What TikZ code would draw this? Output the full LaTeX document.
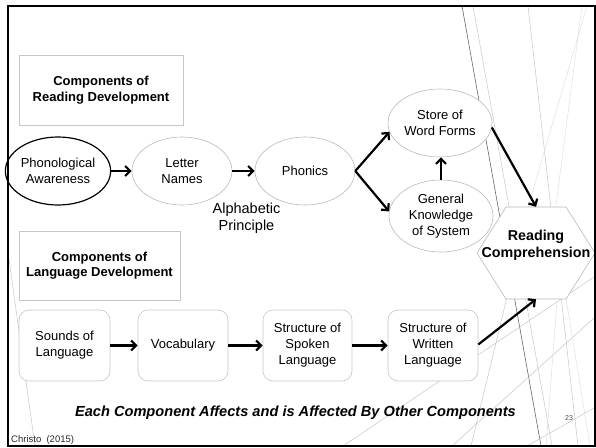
\documentclass[tikz,border=0pt]{standalone}
\usepackage{fontspec}
\setmainfont{Liberation Sans}
\usepackage{tikz}
\usetikzlibrary{
  arrows.meta,
  positioning,
  shapes.geometric,
}

\begin{document}
\begin{tikzpicture}[
  x=1pt, y=-1pt,
  oval/.style={
    ellipse, draw=gray!55, line width=0.6pt, fill=white,
    minimum width=100pt, minimum height=68pt, inner sep=0pt,
    align=center, font=\fontsize{13}{16}\selectfont,
  },
  card/.style={
    draw=gray!45, line width=0.6pt, fill=white, rounded corners=10pt,
    minimum width=90pt, minimum height=71pt, inner sep=0pt,
    align=center, font=\fontsize{13}{16}\selectfont,
  },
  titlebox/.style={
    draw=gray!45, line width=0.6pt, fill=white, inner sep=0pt,
    align=center, font=\bfseries\fontsize{13}{15.5}\selectfont,
  },
  hexnode/.style={
    minimum width=118pt, minimum height=92pt, inner sep=0pt,
    text depth=19pt,
    align=center, font=\bfseries\fontsize{14.3}{17}\selectfont,
  },
  arrow/.style={
    -{Straight Barb[length=5pt,width=10pt]}, line width=2.2pt,
  },
  decor/.style={gray!45, line width=0.5pt},
  decordark/.style={gray!80!black, line width=0.6pt},
  decorlight/.style={gray!25, line width=0.5pt},
]
  \useasboundingbox (0,0) rectangle (596,447);

  % Theme lines
  \draw[decordark] (462,6) -- (541,446);
  \draw[decor] (473,6) -- (552,446);
  \draw[decor] (528,6) -- (578,446);
  \draw[decorlight] (587,6) -- (528,207);
  \draw[decorlight] (582,6) -- (556,205);
  \draw[decor] (343,446) -- (594,277);
  \draw[decor] (452,446) -- (594,318);
  \draw[decor] (527,446) -- (594,408);
  \draw[decor] (507,297) -- (471,446);
  \draw[decorlight] (557,301) -- (546,446);
  \draw[decorlight] (566,298) -- (590,446);
  \draw[decor] (8,252) -- (35,446);

  % Headings
  \node[titlebox, minimum width=164pt, minimum height=70pt] (readhead)
    at (101,90) {Components of\\Reading Development};
  \node[titlebox, minimum width=161pt, minimum height=69pt] (langhead)
    at (99.5,265.5) {Components of\\Language Development};

  % Reading row
  \node[oval, draw=black, line width=1.2pt, minimum width=101pt] (phon)
    at (58,171) {Phonological\\Awareness};
  \node[oval] (letters) at (182,171) {Letter\\Names};
  \node[oval] (phonics) at (305,171) {Phonics};
  \node[oval, minimum width=104pt] (store) at (440,123) {Store of\\Word Forms};
  \node[oval, minimum width=104pt, minimum height=72pt] (general)
    at (441,216) {General\\Knowledge\\of System};
  \node[font=\fontsize{14.5}{17}\selectfont, align=center] (alpha)
    at (246.5,218.5) {Alphabetic\\Principle};

  % Reading Comprehension
  \coordinate (rcc) at (536,253);
  \draw[gray!55, line width=0.6pt, fill=white] (rcc) ++(-59,0) -- ++(29,-46)
    -- ++(60,0) -- ++(29,46) -- ++(-29,46) -- ++(-60,0) -- cycle;
  \node[hexnode] (rc) at (rcc) {Reading\\Comprehension};

  % Language row
  \node[card, minimum width=91pt] (sounds) at (64.5,345.5) {Sounds of\\Language};
  \node[card] (vocab) at (183,345.5) {Vocabulary};
  \node[card, minimum width=89pt] (spoken) at (307.5,345.5)
    {Structure of\\Spoken\\Language};
  \node[card] (written) at (433,345.5) {Structure of\\Written\\Language};

  % Connections
  \draw[arrow] (phon) -- (letters);
  \draw[arrow] (letters) -- (phonics);
  \draw[arrow] (phonics.east) -- (store.190);
  \draw[arrow] (phonics.east) -- (general.175);
  \draw[arrow] (general.north) -- (general.north |- store.south);
  \draw[arrow] (store.-5) -- (rc.north);
  \draw[arrow] (sounds) -- (vocab);
  \draw[arrow] (vocab) -- (spoken);
  \draw[arrow] (spoken) -- (written);
  \draw[arrow] ([yshift=1pt]written.east) -- (rc.south);

  % Footer
  \node[font=\bfseries\itshape\fontsize{14.6}{17}\selectfont] (note)
    at (295.5,413) {Each Component Affects and is Affected By Other Components};
  \node[font=\fontsize{9.5}{11}\selectfont, text=black!85, anchor=west,
    inner sep=0pt] (credit) at (11,440) {Christo\ \ (2015)};
  \node[font=\fontsize{7}{8}\selectfont, text=black!70] (pagenum)
    at (569,418) {23};

  % Frame
  \draw[line width=2pt] (8,6) rectangle (594.5,446);
\end{tikzpicture}
\end{document}
